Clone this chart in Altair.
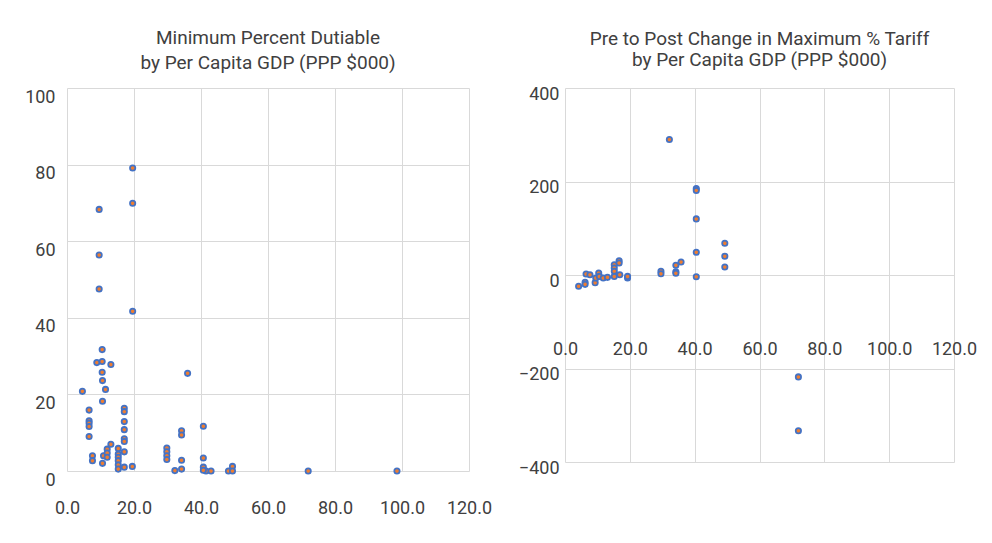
import altair as alt
import pandas as pd

# ---- data ----
left_gdp = [19.6, 19.6, 9.6, 9.6, 9.6, 19.6, 4.6, 10.5, 8.9, 10.5, 13.1, 10.5, 10.6, 11.5,
            10.6, 6.6, 6.6, 6.6, 6.6, 6.6, 7.6, 7.6, 10.6, 10.9, 12.0, 12.0, 12.0, 13.1,
            15.3, 15.3, 15.3, 15.3, 15.3, 15.3, 17.1, 17.1, 17.1, 17.1, 17.1, 17.1, 17.1,
            17.1, 19.5, 29.8, 29.8, 29.8, 29.8, 36.0, 34.2, 34.2, 34.2, 34.2, 32.2, 40.7,
            40.7, 40.7, 41.5, 43.0, 40.7, 48.2, 49.4, 49.4, 72.0, 98.5]
left_pct = [79.1, 69.9, 68.3, 56.4, 47.5, 41.7, 20.8, 31.7, 28.3, 28.6, 27.8, 25.8, 23.6, 21.3,
            18.2, 15.9, 13.1, 12.5, 11.6, 9.0, 4.0, 2.7, 2.0, 4.0, 5.7, 4.7, 3.6, 7.0,
            5.9, 4.4, 3.6, 2.7, 1.6, 0.5, 5.0, 16.4, 15.5, 12.9, 10.8, 8.4, 7.7,
            1.0, 1.2, 6.0, 5.0, 4.0, 3.0, 25.5, 10.5, 9.4, 2.8, 0.5, 0.1, 11.7,
            3.4, 1.0, 0.0, 0.0, 0.2, 0.0, 1.2, 0.0, 0.0, 0.0]

right_gdp = [32.2, 40.5, 40.5, 40.5, 40.5, 40.5, 49.3, 49.3, 49.3, 35.8, 34.2, 34.2, 34.2,
             29.6, 29.6, 4.2, 6.2, 6.2, 6.5, 7.7, 9.3, 9.5, 10.4, 10.6, 11.8, 13.1,
             15.2, 15.2, 15.2, 15.2, 16.7, 16.7, 16.9, 19.3, 19.3, 72.0, 72.0]
right_change = [290, 185, 181, 120, 48.5, -3.6, 67.8, 40, 17, 27.8, 20.7, 7.1, 3.6,
                7.8, 2.8, -24, -15.7, -20, 2, 0.7, -16.4, -6.4, 4.3, -3, -6.4, -5,
                22, 15, 7.9, -3, 30.6, 25.7, 0.7, -6.4, -3, -218, -333]

x_ticks = [0, 20, 40, 60, 80, 100, 120]
left_y_ticks = [0, 20, 40, 60, 80, 100]
right_y_ticks = [-400, -200, 0, 200, 400]

left_title = ["Minimum Percent Dutiable", "by Per Capita GDP (PPP $000)"]
right_title = ["Pre to Post Change in Maximum % Tariff", "by Per Capita GDP (PPP $000)"]

FONT = "Roboto"
TEXT = "#404040"
GRID = "#d9d9d9"
BLUE = "#4472C4"
ORANGE = "#ED7D31"

left_df = pd.DataFrame({"gdp": left_gdp, "pct": left_pct})
right_df = pd.DataFrame({"gdp": right_gdp, "chg": right_change})

pt = dict(fill=ORANGE, stroke=BLUE, strokeWidth=1.8, size=28, opacity=1, fillOpacity=1)


def ttl(lines, offset, line_height):
    return alt.TitleParams(lines, font=FONT, fontSize=19, fontWeight="normal",
                           color=TEXT, anchor="middle", offset=offset,
                           lineHeight=line_height)


left = alt.Chart(left_df).mark_circle(**pt).encode(
    x=alt.X("gdp:Q", scale=alt.Scale(domain=[0, 120], nice=False, zero=False),
            axis=alt.Axis(values=x_ticks, format=".1f", title=None, labelPadding=28,
                          labelFlush=False, ticks=False, domain=False)),
    y=alt.Y("pct:Q", scale=alt.Scale(domain=[0, 100], nice=False),
            axis=alt.Axis(values=left_y_ticks, title=None, labelPadding=12, labelOffset=9,
                          ticks=False, domain=False)),
).properties(width=402, height=383, title=ttl(left_title, 15, 25))

right = alt.Chart(right_df).mark_circle(**pt).encode(
    x=alt.X("gdp:Q", scale=alt.Scale(domain=[0, 120], nice=False, zero=False),
            axis=alt.Axis(values=x_ticks, format=".1f", title=None, labelPadding=4,
                          labelFlush=False, offset=-126, ticks=False, domain=False)),
    y=alt.Y("chg:Q", scale=alt.Scale(domain=[-400, 400], nice=False),
            axis=alt.Axis(values=right_y_ticks, title=None, labelPadding=6, labelOffset=6,
                          ticks=False, domain=False)),
).properties(width=389, height=374, title=ttl(right_title, 15, 21))

chart = alt.hconcat(left, right, spacing=26).properties(
    padding={"left": 16, "top": 21, "right": 5, "bottom": 5},
    background="white",
).configure_view(stroke=None).configure_axis(
    labelFont=FONT, labelFontSize=18, labelColor=TEXT, grid=True, gridColor=GRID,
    gridWidth=1
)

chart.save("out.html", embed_options={"renderer": "svg", "actions": False})
